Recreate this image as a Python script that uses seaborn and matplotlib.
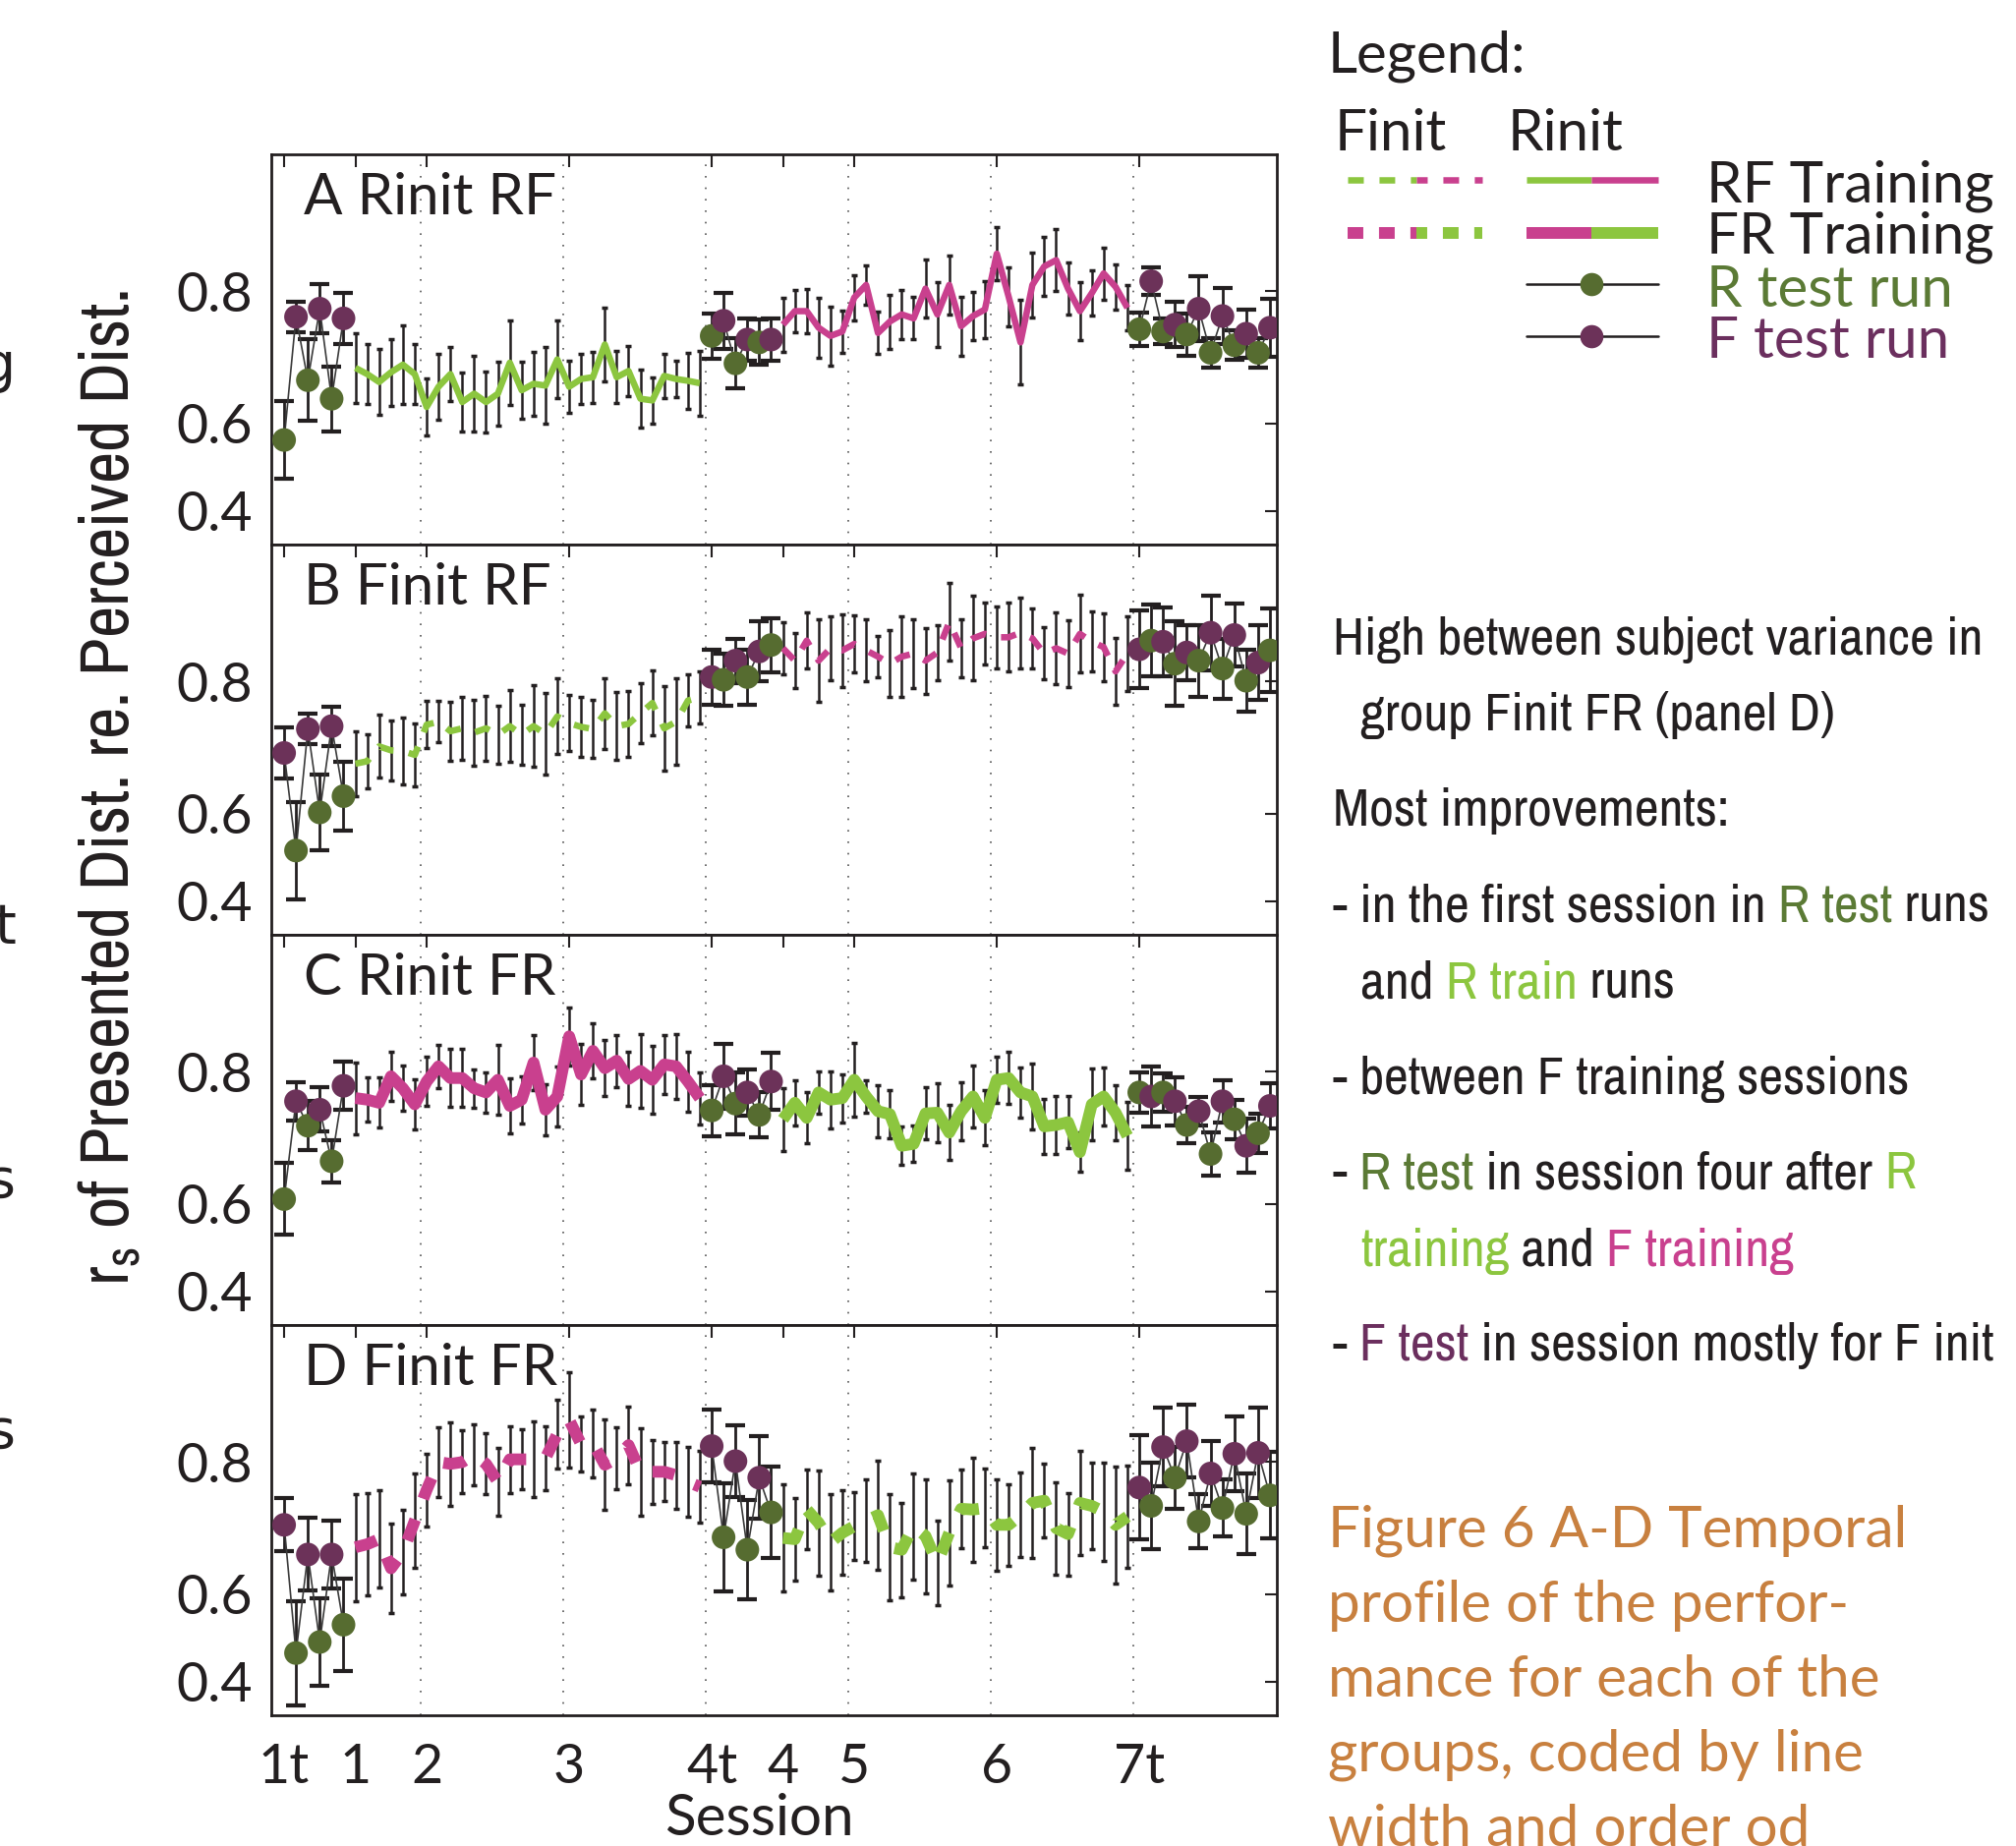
import numpy as np
import matplotlib
matplotlib.use("Agg")
import matplotlib.pyplot as plt
from matplotlib import font_manager as fm
from matplotlib.ticker import NullLocator
import seaborn as sns

# ---------------- data (r_s per run; error bars are +/- in Fisher z) ----------------
session_labels = ["1t", "1", "2", "3", "4t", "4", "5", "6", "7t"]
session_pos = [0, 1, 2, 4, 6, 7, 8, 10, 12]
grid_pos = [2, 4, 6, 8, 10, 12]

# test runs: 6 in 1t, 6 in 4t, 12 in 7t (alternating R / F, starting with the init type)
A_test = [0.566, 0.770, 0.678, 0.780, 0.646, 0.768,
          0.745, 0.765, 0.705, 0.740, 0.736, 0.740,
          0.754, 0.811, 0.751, 0.760, 0.747, 0.780, 0.721, 0.771, 0.732, 0.748, 0.721, 0.756]
A_test_err = [0.12, 0.046, 0.125, 0.075, 0.10, 0.078,
              0.07, 0.087, 0.078, 0.065, 0.07, 0.065,
              0.052, 0.042, 0.04, 0.07, 0.065, 0.10, 0.045, 0.085, 0.045, 0.075, 0.046, 0.09]
A_train1 = [0.698, 0.688, 0.675, 0.691, 0.703, 0.688, 0.631, 0.667, 0.688, 0.640,
            0.655, 0.640, 0.655, 0.706, 0.661, 0.672, 0.669, 0.711, 0.667, 0.680,
            0.683, 0.733, 0.683, 0.693, 0.646, 0.643, 0.685, 0.680, 0.677, 0.673]
A_train1_err = [0.107, 0.092, 0.101, 0.103, 0.122, 0.093, 0.088, 0.101, 0.084, 0.09,
                0.115, 0.093, 0.097, 0.129, 0.088, 0.097, 0.118, 0.12, 0.081, 0.077,
                0.079, 0.113, 0.08, 0.078, 0.089, 0.07, 0.067, 0.057, 0.087, 0.099]
A_train2 = [0.760, 0.777, 0.777, 0.756, 0.745, 0.751, 0.793, 0.807, 0.749, 0.764,
            0.773, 0.768, 0.803, 0.773, 0.807, 0.758, 0.771, 0.779, 0.838, 0.794,
            0.736, 0.807, 0.826, 0.832, 0.803, 0.777, 0.798, 0.819, 0.805, 0.781]
A_train2_err = [0.083, 0.065, 0.068, 0.092, 0.09, 0.065, 0.07, 0.06, 0.065, 0.083,
                0.075, 0.065, 0.09, 0.1, 0.09, 0.09, 0.073, 0.087, 0.082, 0.09,
                0.13, 0.1, 0.09, 0.095, 0.08, 0.09, 0.07, 0.08, 0.07, 0.07]

B_test = [0.706, 0.522, 0.741, 0.602, 0.745, 0.633,
          0.805, 0.802, 0.822, 0.805, 0.831, 0.837,
          0.833, 0.841, 0.840, 0.819, 0.830, 0.822, 0.848, 0.814, 0.846, 0.801, 0.820, 0.832]
B_test_err = [0.079, 0.15, 0.046, 0.116, 0.06, 0.106,
              0.085, 0.08, 0.068, 0.084, 0.093, 0.083,
              0.12, 0.11, 0.105, 0.13, 0.085, 0.11, 0.115, 0.092, 0.096, 0.094, 0.114, 0.129]
B_train1 = [0.689, 0.693, 0.716, 0.710, 0.709, 0.703, 0.747, 0.751, 0.738, 0.742,
            0.736, 0.742, 0.733, 0.745, 0.733, 0.745, 0.734, 0.758, 0.749, 0.744,
            0.741, 0.762, 0.745, 0.748, 0.762, 0.775, 0.742, 0.751, 0.778, 0.782]
B_train1_err = [0.10, 0.082, 0.097, 0.092, 0.102, 0.097, 0.073, 0.063, 0.091, 0.096,
                0.101, 0.10, 0.088, 0.111, 0.092, 0.125, 0.125, 0.116, 0.086, 0.093,
                0.09, 0.109, 0.105, 0.101, 0.093, 0.10, 0.13, 0.133, 0.08, 0.08]
B_train2 = [0.834, 0.822, 0.841, 0.822, 0.834, 0.832, 0.838, 0.832, 0.826, 0.819,
            0.826, 0.829, 0.822, 0.830, 0.857, 0.834, 0.843, 0.847, 0.844, 0.844,
            0.848, 0.843, 0.829, 0.834, 0.829, 0.847, 0.840, 0.835, 0.811, 0.829]
B_train2_err = [0.08, 0.085, 0.086, 0.127, 0.097, 0.112, 0.087, 0.095, 0.062, 0.103,
                0.123, 0.105, 0.101, 0.084, 0.12, 0.089, 0.13, 0.095, 0.095, 0.106,
                0.109, 0.091, 0.08, 0.11, 0.102, 0.119, 0.092, 0.104, 0.102, 0.114]

C_test = [0.609, 0.765, 0.732, 0.754, 0.677, 0.784,
          0.753, 0.795, 0.762, 0.776, 0.747, 0.789,
          0.776, 0.771, 0.776, 0.765, 0.733, 0.752, 0.689, 0.765, 0.741, 0.702, 0.721, 0.759]
C_test_err = [0.11, 0.058, 0.075, 0.068, 0.066, 0.075,
              0.078, 0.10, 0.096, 0.07, 0.07, 0.088,
              0.062, 0.092, 0.06, 0.075, 0.057, 0.043, 0.066, 0.065, 0.06, 0.084, 0.06, 0.07]
C_train1 = [0.769, 0.767, 0.763, 0.795, 0.781, 0.761, 0.789, 0.806, 0.793, 0.793,
            0.781, 0.776, 0.791, 0.759, 0.767, 0.810, 0.754, 0.771, 0.836, 0.797,
            0.822, 0.804, 0.812, 0.792, 0.801, 0.791, 0.808, 0.806, 0.789, 0.769]
C_train1_err = [0.11, 0.068, 0.077, 0.075, 0.07, 0.078, 0.075, 0.066, 0.089, 0.089,
                0.059, 0.062, 0.106, 0.084, 0.073, 0.085, 0.079, 0.092, 0.09, 0.094,
                0.085, 0.087, 0.08, 0.084, 0.113, 0.105, 0.09, 0.1, 0.093, 0.08]
C_train2 = [0.741, 0.763, 0.743, 0.776, 0.767, 0.769, 0.791, 0.771, 0.752, 0.748,
            0.702, 0.705, 0.749, 0.750, 0.722, 0.752, 0.771, 0.743, 0.791, 0.793,
            0.776, 0.771, 0.731, 0.733, 0.737, 0.692, 0.761, 0.771, 0.750, 0.717]
C_train2_err = [0.097, 0.07, 0.078, 0.065, 0.088, 0.074, 0.112, 0.05, 0.08, 0.075,
                0.06, 0.055, 0.08, 0.09, 0.085, 0.09, 0.095, 0.085, 0.07, 0.08,
                0.078, 0.1, 0.085, 0.09, 0.08, 0.06, 0.11, 0.09, 0.085, 0.105]

D_test = [0.719, 0.471, 0.672, 0.497, 0.672, 0.536,
          0.817, 0.700, 0.801, 0.680, 0.782, 0.737,
          0.770, 0.746, 0.816, 0.782, 0.822, 0.724, 0.787, 0.743, 0.809, 0.735, 0.810, 0.760]
D_test_err = [0.082, 0.16, 0.112, 0.134, 0.105, 0.143,
              0.112, 0.165, 0.109, 0.152, 0.127, 0.141,
              0.16, 0.133, 0.12, 0.095, 0.112, 0.083, 0.10, 0.088, 0.115, 0.123, 0.14, 0.133]
D_train1 = [0.684, 0.689, 0.697, 0.648, 0.676, 0.725, 0.767, 0.800, 0.798, 0.800,
            0.808, 0.798, 0.777, 0.803, 0.803, 0.803, 0.804, 0.829, 0.842, 0.819,
            0.820, 0.797, 0.804, 0.818, 0.789, 0.789, 0.789, 0.785, 0.777, 0.771]
D_train1_err = [0.165, 0.158, 0.15, 0.137, 0.131, 0.145, 0.112, 0.108, 0.128, 0.097,
                0.094, 0.094, 0.103, 0.103, 0.092, 0.117, 0.099, 0.105, 0.147, 0.085,
                0.104, 0.14, 0.096, 0.119, 0.134, 0.098, 0.091, 0.103, 0.107, 0.11]
D_train2 = [0.699, 0.697, 0.741, 0.722, 0.692, 0.707, 0.717, 0.725, 0.733, 0.684,
            0.680, 0.717, 0.702, 0.657, 0.707, 0.742, 0.741, 0.743, 0.719, 0.719,
            0.733, 0.750, 0.753, 0.714, 0.705, 0.750, 0.746, 0.738, 0.719, 0.731]
D_train2_err = [0.165, 0.128, 0.122, 0.162, 0.147, 0.13, 0.105, 0.128, 0.169, 0.164,
                0.145, 0.163, 0.175, 0.13, 0.162, 0.12, 0.16, 0.121, 0.14, 0.125,
                0.13, 0.169, 0.113, 0.142, 0.127, 0.16, 0.133, 0.152, 0.18, 0.157]

# ---------------- style ----------------
INK = "#231f20"
R_TRAIN = "#8cc63f"
F_TRAIN = "#c9408e"
R_TEST = "#566c30"
F_TEST = "#6c3259"
R_TEXT = "#5b7a35"
F_TEXT = "#6b2f5e"
CAPTION = "#c8803f"
LW_THIN, LW_THICK = 4.7, 8.6

sns.set_theme(style="white")
plt.rcParams["font.family"] = ["Lato", "DejaVu Sans"]


def find_narrow():
    # look for any condensed / narrow face that is installed
    for f in fm.fontManager.ttflist:
        if ("Narrow" in f.name or "Condensed" in f.name) and "Mono" not in f.name:
            return dict(family=f.name)
    for f in fm.fontManager.ttflist:
        if "condensed" in str(f.stretch) and "Mono" not in f.name:
            return dict(family=f.name, fontstretch="condensed")
    return dict(family="Lato")


NARROW = find_narrow()

panels = [
    dict(label="A Rinit RF", init="R", order="RF", thick=False, dashed=False,
         test=A_test, test_err=A_test_err, t1=A_train1, e1=A_train1_err, t2=A_train2, e2=A_train2_err),
    dict(label="B Finit RF", init="F", order="RF", thick=False, dashed=True,
         test=B_test, test_err=B_test_err, t1=B_train1, e1=B_train1_err, t2=B_train2, e2=B_train2_err),
    dict(label="C Rinit FR", init="R", order="FR", thick=True, dashed=False,
         test=C_test, test_err=C_test_err, t1=C_train1, e1=C_train1_err, t2=C_train2, e2=C_train2_err),
    dict(label="D Finit FR", init="F", order="FR", thick=True, dashed=True,
         test=D_test, test_err=D_test_err, t1=D_train1, e1=D_train1_err, t2=D_train2, e2=D_train2_err),
]

x_train1 = 1 + np.arange(30) / 6
x_train2 = 7 + np.arange(30) / 6
x_test = np.concatenate([np.arange(6) / 6, 6 + np.arange(6) / 6, 12 + np.arange(12) / 6])
test_blocks = [slice(0, 6), slice(6, 12), slice(12, 24)]


def zbar(r, e):
    # symmetric bars in Fisher z space
    r = np.asarray(r)
    z = np.arctanh(r)
    e = np.asarray(e)
    return [r - np.tanh(z - e), np.tanh(z + e) - r]


def draw_panel(ax, p, last):
    for g in grid_pos:
        ax.axvline(g - 1 / 12, color="#555555", lw=1.2, dashes=(1, 6), zorder=1)

    lw = LW_THICK if p["thick"] else LW_THIN
    if p["dashed"]:
        ls = (0, (1.9, 1.9)) if p["thick"] else (0, (2.4, 2.4))
    else:
        ls = "-"
    c1, c2 = (R_TRAIN, F_TRAIN) if p["order"] == "RF" else (F_TRAIN, R_TRAIN)

    for x, r, e, c in [(x_train1, p["t1"], p["e1"], c1), (x_train2, p["t2"], p["e2"], c2)]:
        ax.errorbar(x, r, yerr=zbar(r, e), fmt="none", ecolor=INK, elinewidth=1.8,
                    capsize=2.2, capthick=2.5, zorder=2)
        sns.lineplot(x=x, y=r, ax=ax, color=c, linewidth=lw, linestyle=ls, sort=False,
                     errorbar=None, legend=False, zorder=3, solid_capstyle="butt",
                     dash_capstyle="butt")

    test = np.asarray(p["test"])
    ax.errorbar(x_test, test, yerr=zbar(test, p["test_err"]), fmt="none", ecolor=INK,
                elinewidth=2, capsize=7, capthick=3, zorder=4)
    for b in test_blocks:
        sns.lineplot(x=x_test[b], y=test[b], ax=ax, color="#3a3a3a", linewidth=1.2,
                     sort=False, errorbar=None, legend=False, zorder=4)
    first, second = ("R", "F") if p["init"] == "R" else ("F", "R")
    kind = [first if i % 2 == 0 else second for i in range(24)]
    sns.scatterplot(x=x_test, y=test, hue=kind, palette={"R": R_TEST, "F": F_TEST},
                    s=300, edgecolor="none", legend=False, ax=ax, zorder=5)

    ax.set_yscale("function", functions=(np.arctanh, np.tanh))
    ax.set_ylim(np.tanh(0.32), np.tanh(1.52))
    ax.set_yticks([0.4, 0.6, 0.8])
    ax.set_yticklabels(["0.4", "0.6", "0.8"])
    ax.yaxis.set_minor_locator(NullLocator())
    ax.set_xlim(-0.18, 13.93)
    ax.set_xticks(session_pos)
    ax.set_xticklabels(session_labels if last else [])
    ax.set_ylabel("")
    ax.set_xlabel("")
    for s in ax.spines.values():
        s.set_linewidth(2)
        s.set_color(INK)
    ax.tick_params(axis="both", direction="in", length=9, width=1.5, color=INK,
                   top=True, right=True, labelsize=40, labelcolor=INK)
    ax.tick_params(axis="y", pad=14)
    ax.tick_params(axis="x", pad=20)
    ax.text(0.032, 0.846, p["label"], transform=ax.transAxes, fontsize=42,
            color=INK, va="baseline")
    if last:
        ax.set_xlabel("Session", fontsize=42, color=INK, labelpad=0, x=0.485)


W, H = 2051, 1878
fig = plt.figure(figsize=(W / 100, H / 100), dpi=100)
ax_left, ax_right, ax_top, panel_h = 276, 1299, 157, 397
for i, p in enumerate(panels):
    top = ax_top + i * panel_h
    ax = fig.add_axes([ax_left / W, 1 - (top + panel_h) / H, (ax_right - ax_left) / W, panel_h / H])
    draw_panel(ax, p, i == len(panels) - 1)

# overlay in pixel coordinates for legend and notes
ov = fig.add_axes([0, 0, 1, 1])
ov.set_xlim(0, W)
ov.set_ylim(H, 0)
ov.axis("off")
renderer = fig.canvas.get_renderer()


def measure(s, **kw):
    t = ov.text(0, 0, s, **kw)
    w = t.get_window_extent(renderer).width
    t.remove()
    return w


def fit_size(s, target, **kw):
    return 40 * target / measure(s, fontsize=40, **kw)


ylab = r"$\mathregular{r_s}$ of Presented Dist. re. Perceived Dist."
ov.text(131, 801, ylab, rotation=90, rotation_mode="anchor", ha="center", va="baseline",
        fontsize=fit_size(ylab, 1014, **NARROW), color=INK, **NARROW)

# clipped letters from the neighbouring column
for s, y in [("g", 373), ("t", 944), ("s", 1203), ("s", 1458)]:
    ov.text(16, y, s, ha="right", va="center", fontsize=40, family="DejaVu Sans", color=INK)

# legend
ov.text(1351, 74, "Legend:", fontsize=42, color=INK, va="baseline")
ov.text(1358, 153, "Finit", fontsize=42, color=INK, va="baseline")
ov.text(1534, 153, "Rinit", fontsize=42, color=INK, va="baseline")
for y, lw, ca, cb in [(183, LW_THIN, R_TRAIN, F_TRAIN), (237, LW_THICK, F_TRAIN, R_TRAIN)]:
    on = 11.5 / lw
    ov.plot([1371, 1441], [y, y], color=ca, lw=lw, linestyle=(0, (on, on)), dash_capstyle="butt")
    ov.plot([1441, 1508], [y, y], color=cb, lw=lw, linestyle=(3.6 / lw, (on, on)),
            dash_capstyle="butt")
    ov.plot([1553, 1619], [y, y], color=ca, lw=lw, solid_capstyle="butt")
    ov.plot([1619, 1687], [y, y], color=cb, lw=lw, solid_capstyle="butt")
for y, c in [(289, R_TEST), (342, F_TEST)]:
    ov.plot([1553, 1687], [y, y], color=INK, lw=1.8)
    ov.plot([1619], [y], marker="o", ms=17, color=c, mec="none")
ov.text(1736, 206, "RF Training", fontsize=42, color=INK, va="baseline")
ov.text(1736, 258, "FR Training", fontsize=42, color=INK, va="baseline")
ov.text(1736, 312, "R test run", fontsize=42, color=R_TEXT, va="baseline")
ov.text(1736, 364, "F test run", fontsize=42, color=F_TEXT, va="baseline")

# notes with coloured words
note_kw = dict(fontsize=fit_size("High between subject variance in", 662, **NARROW),
               va="baseline", **NARROW)


def text_width(s):
    return measure(s + "|", **note_kw) - measure("|", **note_kw)


def rich_line(x, y, parts):
    done = ""
    for s, c in parts:
        ov.text(x + text_width(done) if done else x, y, s, color=c, **note_kw)
        done += s


notes = [
    (1356, 666, [("High between subject variance in", INK)]),
    (1384, 743, [("group Finit FR (panel D)", INK)]),
    (1356, 840, [("Most improvements:", INK)]),
    (1356, 937, [("- in the first session in ", INK), ("R test", R_TEXT), (" runs", INK)]),
    (1384, 1016, [("and ", INK), ("R train", R_TRAIN), (" runs", INK)]),
    (1356, 1113, [("- between F training sessions", INK)]),
    (1356, 1209, [("- ", INK), ("R test", R_TEXT), (" in session four after ", INK), ("R", R_TRAIN)]),
    (1384, 1288, [("training", R_TRAIN), (" and ", INK), ("F training", F_TRAIN)]),
    (1356, 1384, [("- ", INK), ("F test", F_TEXT), (" in session mostly for F init", INK)]),
]
for x, y, parts in notes:
    rich_line(x, y, parts)

caption = ["Figure 6 A-D Temporal", "profile of the perfor-", "mance for each of the",
           "groups, coded by line", "width and order od"]
for i, line in enumerate(caption):
    ov.text(1351, 1574 + 76 * i, line, fontsize=42, color=CAPTION, va="baseline")

fig.savefig("out.png", dpi=100)
